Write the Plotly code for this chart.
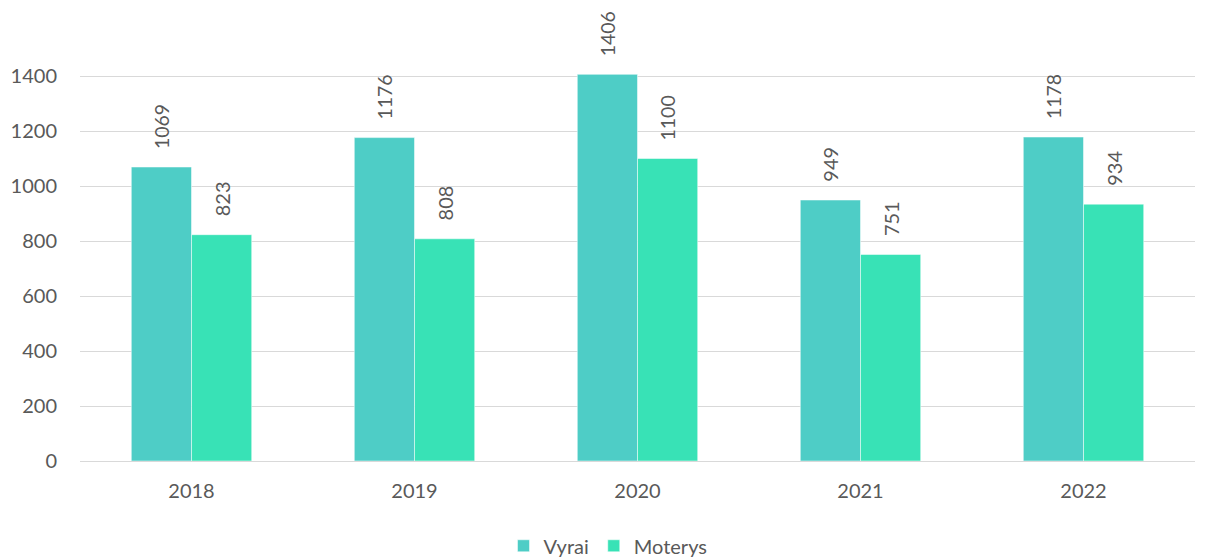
import plotly.graph_objects as go

years = ["2018", "2019", "2020", "2021", "2022"]
vyrai = [1069, 1176, 1406, 949, 1178]
moterys = [823, 808, 1100, 751, 934]
y_ticks = [0, 200, 400, 600, 800, 1000, 1200, 1400]

FONT = "Lato"
TXT = "#595959"
PAD = "\u00a0\u00a0\u00a0"

fig = go.Figure()
fig.add_trace(go.Bar(
    x=years, y=vyrai, name="Vyrai",
    marker=dict(color="#4ECDC6", line=dict(color="white", width=0.5)),
    texttemplate=PAD + "%{y}", textposition="outside", textangle=-90,
    textfont=dict(family=FONT, size=20, color=TXT), cliponaxis=False,
))
fig.add_trace(go.Bar(
    x=years, y=moterys, name="Moterys",
    marker=dict(color="#38E2B6", line=dict(color="white", width=0.5)),
    texttemplate=PAD + "%{y}", textposition="outside", textangle=-90,
    textfont=dict(family=FONT, size=20, color=TXT), cliponaxis=False,
))

fig.update_layout(
    width=1200, height=551,
    margin=dict(l=72, r=13, t=13, b=98),
    paper_bgcolor="white", plot_bgcolor="white",
    barmode="group", bargap=0.46, bargroupgap=0,
    font=dict(family=FONT, size=20, color=TXT),
    showlegend=True,
    legend=dict(orientation="h", x=0.5, xanchor="center", xref="container",
                y=0.024, yanchor="middle", yref="container",
                font=dict(family=FONT, size=20, color=TXT),
                traceorder="normal", itemwidth=30),
    xaxis=dict(showgrid=False, showline=True, linecolor="#D9D9D9", linewidth=1,
               ticks="", tickfont=dict(family=FONT, size=20, color=TXT),
               ticklabelstandoff=12, automargin=False),
    yaxis=dict(range=[0, 1600], tickvals=y_ticks, showgrid=True, gridcolor="#D9D9D9",
               gridwidth=1, zeroline=False, showline=False, ticks="",
               tickfont=dict(family=FONT, size=20, color=TXT), ticklabelstandoff=22,
               automargin=False),
)
fig.write_html("out.html")
